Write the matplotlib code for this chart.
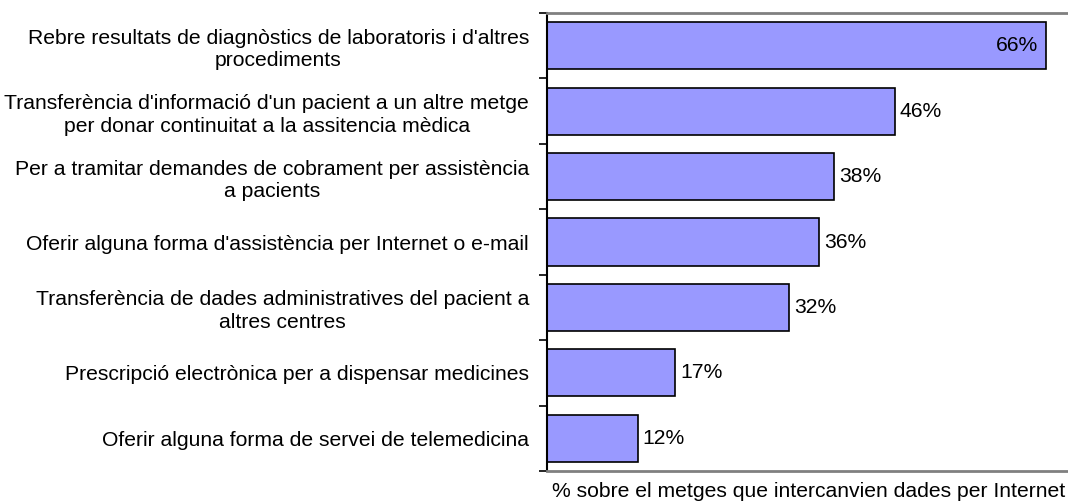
import matplotlib
matplotlib.use("Agg")
import matplotlib.pyplot as plt

plt.rcParams['font.family'] = ['Liberation Sans', 'DejaVu Sans']

categories = [
    "Rebre resultats de diagnòstics de laboratoris i d'altres\nprocediments",
    "Transferència d'informació d'un pacient a un altre metge\nper donar continuitat a la assitencia mèdica",
    "Per a tramitar demandes de cobrament per assistència\na pacients",
    "Oferir alguna forma d'assistència per Internet o e-mail",
    "Transferència de dades administratives del pacient a\naltres centres",
    "Prescripció electrònica per a dispensar medicines",
    "Oferir alguna forma de servei de telemedicina",
]
values = [66, 46, 38, 36, 32, 17, 12]
value_labels = ["66%", "46%", "38%", "36%", "32%", "17%", "12%"]
xlabel = "% sobre el metges que intercanvien dades per Internet"

FS = 15.2
W, H = 1068, 501
fig = plt.figure(figsize=(W / 100, H / 100), dpi=100)
left, right, top, bottom = 547, 1070, 13, 471
ax = fig.add_axes([left / W, (H - bottom) / H, (right - left) / W, (bottom - top) / H])

n = len(categories)
pos = list(range(n))
ax.barh(pos, values, height=0.72, color='#9999FF', edgecolor='black', linewidth=1.2)
ax.set_ylim(n - 0.5, -0.5)
ax.set_xlim(0, (right - left) / 7.556)

for p, v, lab in zip(pos, values, value_labels):
    if v == max(values):
        ax.text(v - 1.0, p, lab, ha='right', va='center', fontsize=FS)
    else:
        ax.text(v + 0.65, p, lab, ha='left', va='center', fontsize=FS)

ax.set_yticks([i - 0.5 for i in range(n + 1)])
ax.set_yticklabels([])
ax.tick_params(axis='y', which='major', direction='out', length=6, width=1.2, color='black')
ax.set_yticks(pos, minor=True)
ax.set_yticklabels(categories, minor=True, fontsize=FS, multialignment='center',
                   linespacing=1.25)
ax.tick_params(axis='y', which='minor', length=0, pad=13)
ax.set_xticks([])

ax.spines['left'].set_color('black')
ax.spines['left'].set_linewidth(1.5)
for s in ['top', 'bottom']:
    ax.spines[s].set_color('#808080')
    ax.spines[s].set_linewidth(2)
ax.spines['right'].set_visible(False)

ax.set_xlabel(xlabel, fontsize=FS, labelpad=8)

fig.savefig('out.png', dpi=100)
